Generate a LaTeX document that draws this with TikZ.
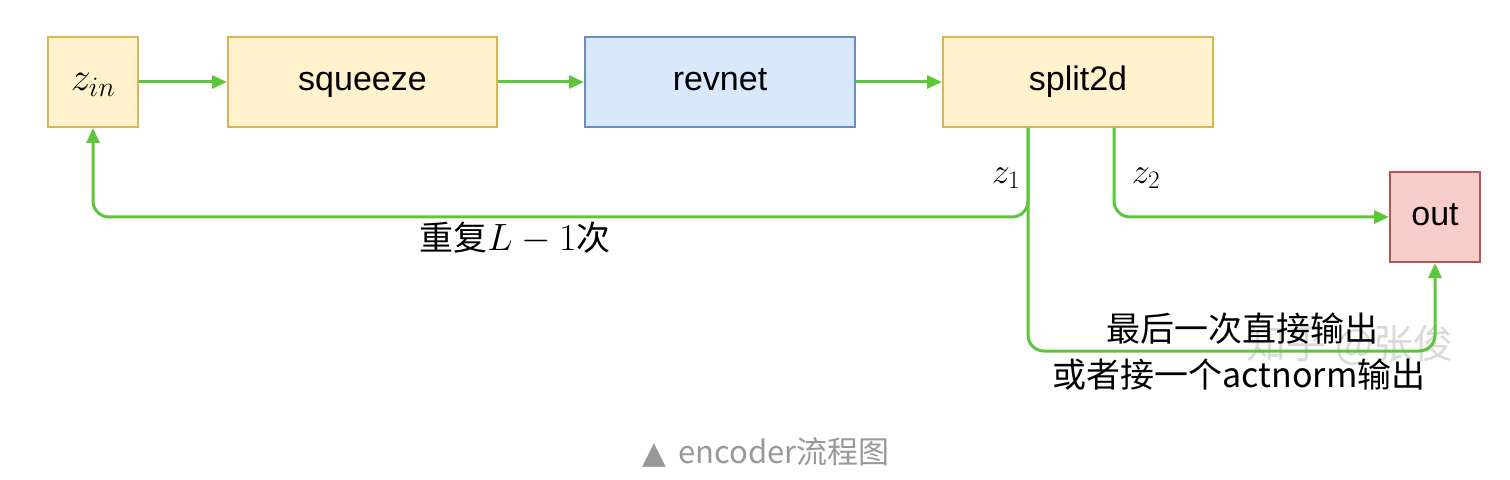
\RequirePackage{fix-cm}
\documentclass[tikz,border=0pt]{standalone}
\usepackage{fontspec}
\setsansfont{Liberation Sans}
\newfontfamily\cjk{Noto Sans CJK SC}
\newfontfamily\symfont{DejaVu Sans}
\usetikzlibrary{arrows.meta}
\definecolor{yfill}{HTML}{FFF2CC}
\definecolor{ydraw}{HTML}{D6B656}
\definecolor{bfill}{HTML}{DAE8FC}
\definecolor{bdraw}{HTML}{6C8EBF}
\definecolor{rfill}{HTML}{F8CECC}
\definecolor{rdraw}{HTML}{B85450}
\definecolor{gline}{HTML}{5DC63C}
\definecolor{capgray}{HTML}{999999}
\definecolor{wmgray}{HTML}{DADADA}
\tikzset{
  box/.style={draw, line width=2bp, inner sep=0pt, text height=25bp, text depth=8bp, font=\sffamily\fontsize{34bp}{40bp}\selectfont},
  ybox/.style={box, fill=yfill, draw=ydraw},
  bbox/.style={box, fill=bfill, draw=bdraw},
  rbox/.style={box, fill=rfill, draw=rdraw},
  conn/.style={draw=gline, line width=3bp, rounded corners=16bp, -{Triangle[length=15bp,width=13bp]}},
  lbl/.style={inner sep=0pt, font=\fontsize{36bp}{42bp}\selectfont},
  cjklbl/.style={inner sep=0pt, font=\cjk\fontsize{32bp}{38bp}\selectfont},
}
\begin{document}
\begin{tikzpicture}[x=1bp,y=-1bp]
\useasboundingbox (0,0) rectangle (1510,480);
% watermark
\node[inner sep=0pt, text=wmgray, font=\cjk\fontsize{40bp}{46bp}\selectfont] (wm) at (1350,345) {知乎 @张俊};
% boxes
\node[ybox, minimum width=90bp, minimum height=90bp, font=\fontsize{40bp}{44bp}\selectfont] (zin) at (93,82) {$z_{in}$};
\node[ybox, minimum width=269bp, minimum height=90bp] (squeeze) at (362.5,82) {squeeze};
\node[bbox, minimum width=270bp, minimum height=90bp] (revnet) at (720,82) {revnet};
\node[ybox, minimum width=270bp, minimum height=90bp] (split) at (1078,82) {split2d};
\node[rbox, minimum width=90bp, minimum height=90bp] (out) at (1435,217) {out};
% connectors
\draw[conn] (zin) -- (squeeze);
\draw[conn] (squeeze) -- (revnet);
\draw[conn] (revnet) -- (split);
\coordinate (s1) at ([xshift=-50bp]split.south);
\coordinate (s2) at ([xshift=36bp]split.south);
\draw[conn] (s1) -- ++(0,89) -| (zin.south);
\draw[conn] (s1) -- ++(0,223) -| (out.south);
\draw[conn] (s2) |- (out.west);
% labels
\node[lbl] (z1) at (1006,178) {$z_1$};
\node[lbl] (z2) at (1146,178) {$z_2$};
\node[cjklbl, font=\cjk\fontsize{34bp}{40bp}\selectfont] (rep) at (515,238) {重复{\fontsize{38bp}{42bp}\selectfont$L-1$}次};
\node[cjklbl, font=\cjk\fontsize{34bp}{40bp}\selectfont] (last1) at (1242,329) {最后一次直接输出};
\node[cjklbl, font=\cjk\fontsize{34bp}{40bp}\selectfont] (last2) at (1239,375) {或者接一个actnorm输出};
% caption
\node[inner sep=0pt, text=capgray, font=\cjk\fontsize{31bp}{36bp}\selectfont] (cap) at (766,452) {{\symfont ▲}\, encoder流程图};
\end{tikzpicture}
\end{document}
